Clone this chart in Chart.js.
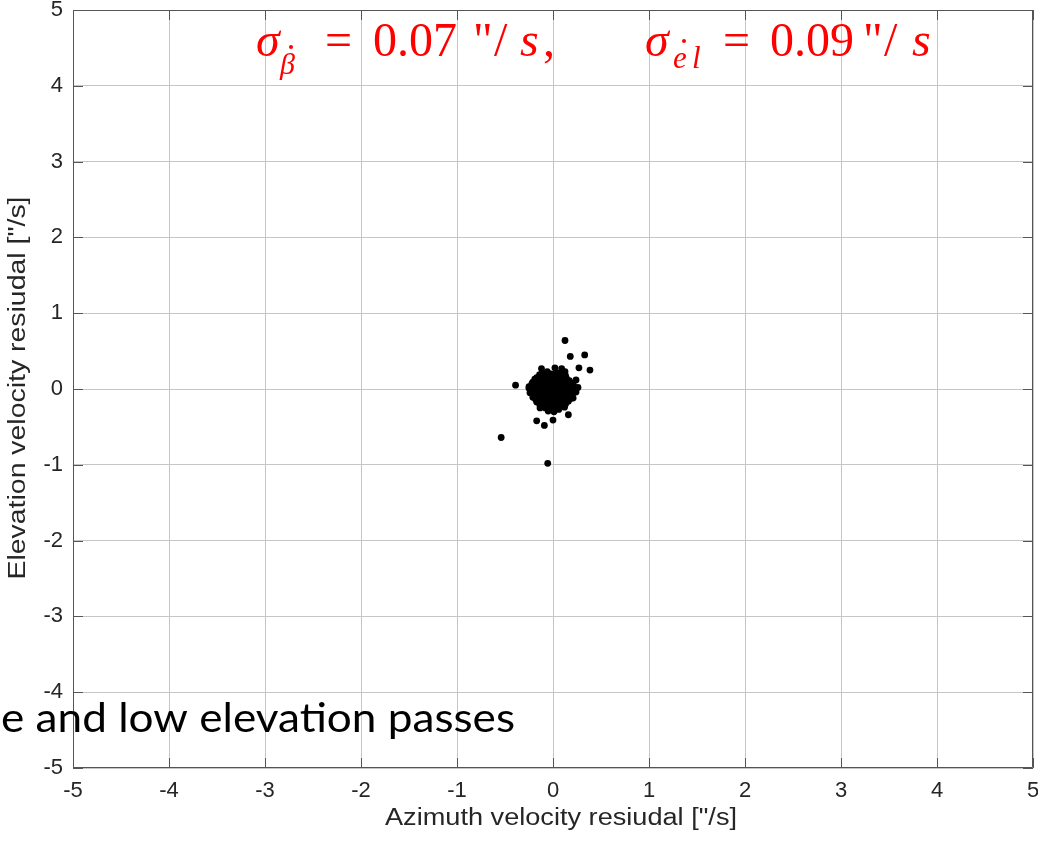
<!DOCTYPE html>
<html>
<head>
<meta charset="utf-8">
<script src="https://cdn.jsdelivr.net/npm/chart.js@4.4.1/dist/chart.umd.min.js"></script>
<style>
  html, body { margin: 0; padding: 0; background: #fff; }
</style>
</head>
<body>
<canvas id="residualChart" width="1038" height="846"></canvas>
<script>
// Residuais de velocidade (azimute x elevação), em "/s
var azimuthResidual = [
  // pontos afastados
  0.125, 0.18, 0.33, 0.385, 0.27, -0.12, 0.02, 0.09, 0.125, 0.24, 0.26, -0.39, -0.25,
  -0.17, -0.09, 0.0, 0.16, -0.54, -0.055, -0.135, -0.03,
  // nuvem central
  -0.11, -0.06, -0.02, 0.03, 0.07, 0.11,
  -0.17, -0.12, -0.08, -0.03, 0.01, 0.05, 0.09, 0.14,
  -0.21, -0.16, -0.12, -0.07, -0.03, 0.02, 0.06, 0.10, 0.15, 0.19,
  -0.23, -0.18, -0.14, -0.09, -0.05, -0.01, 0.04, 0.08, 0.13, 0.17, 0.21,
  -0.22, -0.18, -0.13, -0.09, -0.04, 0.00, 0.05, 0.09, 0.14, 0.18, 0.22,
  -0.20, -0.16, -0.11, -0.07, -0.02, 0.02, 0.07, 0.11, 0.16, 0.20,
  -0.18, -0.13, -0.09, -0.04, 0.00, 0.05, 0.09, 0.14, 0.18,
  -0.14, -0.09, -0.05, 0.00, 0.04, 0.09, 0.13,
  -0.08, -0.03, 0.02, 0.06,
  // nuvem central (linhas intercaladas)
  -0.14, -0.09, -0.04, 0.00, 0.05, 0.09, 0.13,
  -0.19, -0.14, -0.10, -0.05, -0.01, 0.03, 0.08, 0.12, 0.17,
  -0.22, -0.18, -0.14, -0.09, -0.05, 0.00, 0.04, 0.08, 0.13, 0.17, 0.21,
  -0.25, -0.20, -0.16, -0.11, -0.07, -0.03, 0.02, 0.06, 0.11, 0.15, 0.19, 0.23,
  -0.24, -0.20, -0.15, -0.11, -0.06, -0.02, 0.03, 0.07, 0.12, 0.16, 0.20, 0.24,
  -0.21, -0.18, -0.13, -0.09, -0.04, 0.00, 0.04, 0.09, 0.13, 0.18, 0.21,
  -0.17, -0.11, -0.07, -0.02, 0.02, 0.07, 0.11, 0.16,
  -0.12, -0.06, -0.01, 0.04, 0.09, 0.12,
  -0.05, 0.01
];
var elevationResidual = [
  0.64, 0.43, 0.45, 0.25, 0.28, 0.27, 0.28, 0.27, 0.23, 0.12, 0.02, 0.05, 0.03,
  -0.42, -0.48, -0.41, -0.34, -0.64, -0.98, -0.25, -0.26,
  0.21, 0.23, 0.20, 0.22, 0.21, 0.19,
  0.15, 0.17, 0.16, 0.15, 0.17, 0.15, 0.16, 0.14,
  0.09, 0.11, 0.10, 0.09, 0.11, 0.10, 0.09, 0.11, 0.10, 0.08,
  0.03, 0.05, 0.04, 0.03, 0.05, 0.04, 0.03, 0.05, 0.04, 0.03, 0.05,
  -0.03, -0.01, -0.02, -0.03, -0.01, -0.02, -0.03, -0.01, -0.02, -0.03, -0.01,
  -0.08, -0.09, -0.07, -0.08, -0.09, -0.07, -0.08, -0.09, -0.07, -0.09,
  -0.14, -0.15, -0.13, -0.14, -0.15, -0.13, -0.14, -0.15, -0.13,
  -0.20, -0.21, -0.19, -0.20, -0.21, -0.19, -0.20,
  -0.25, -0.26, -0.25, -0.27,
  0.19, 0.18, 0.20, 0.19, 0.18, 0.20, 0.18,
  0.13, 0.12, 0.14, 0.13, 0.12, 0.14, 0.13, 0.12, 0.11,
  0.07, 0.06, 0.08, 0.07, 0.06, 0.08, 0.07, 0.06, 0.08, 0.07, 0.06,
  0.01, 0.00, 0.02, 0.01, 0.00, 0.02, 0.01, 0.00, 0.02, 0.01, 0.00, 0.01,
  -0.05, -0.06, -0.04, -0.05, -0.06, -0.04, -0.05, -0.06, -0.04, -0.05, -0.06, -0.04,
  -0.11, -0.12, -0.10, -0.11, -0.12, -0.10, -0.11, -0.12, -0.10, -0.11, -0.12,
  -0.17, -0.18, -0.16, -0.17, -0.18, -0.16, -0.17, -0.16,
  -0.23, -0.22, -0.24, -0.23, -0.22, -0.24,
  -0.29, -0.30
];
var xTicks = [-5, -4, -3, -2, -1, 0, 1, 2, 3, 4, 5];
var yTicks = [-5, -4, -3, -2, -1, 0, 1, 2, 3, 4, 5];

var xTitle = 'Azimuth velocity resiudal ["/s]';
var yTitle = 'Elevation velocity resiudal ["/s]';
var slideText = 'e and low elevation passes';

var points = azimuthResidual.map(function (v, i) {
  return { x: v, y: elevationResidual[i] };
});

var axisColor = '#262626';
var tickFont = { family: '"Liberation Sans", Arial, sans-serif', size: 22 };

// texto esticado na horizontal até a largura desejada
function fitText(ctx, text, cx, cy, width, rot) {
  ctx.save();
  ctx.translate(cx, cy);
  if (rot) ctx.rotate(rot);
  var w = ctx.measureText(text).width;
  ctx.scale(width / w, 1);
  ctx.fillText(text, 0, 0);
  ctx.restore();
}

var overlayPlugin = {
  id: 'overlay',
  afterDraw: function (chart) {
    var ctx = chart.ctx;
    var a = chart.chartArea;
    var sx = chart.scales.x, sy = chart.scales.y;
    ctx.save();

    // caixa e marcas internas (estilo MATLAB)
    ctx.strokeStyle = '#555555';
    ctx.lineWidth = 1;
    ctx.beginPath();
    ctx.rect(a.left + 0.5, a.top + 0.5, a.right - a.left - 1, a.bottom - a.top - 1);
    xTicks.forEach(function (v) {
      var px = Math.round(sx.getPixelForValue(v)) + 0.5;
      ctx.moveTo(px, a.bottom); ctx.lineTo(px, a.bottom - 10);
      ctx.moveTo(px, a.top); ctx.lineTo(px, a.top + 10);
    });
    yTicks.forEach(function (v) {
      var py = Math.round(sy.getPixelForValue(v)) + 0.5;
      ctx.moveTo(a.left, py); ctx.lineTo(a.left + 10, py);
      ctx.moveTo(a.right, py); ctx.lineTo(a.right - 10, py);
    });
    ctx.stroke();

    // títulos dos eixos
    ctx.fillStyle = axisColor;
    ctx.font = '23px "Liberation Sans", Arial, sans-serif';
    ctx.textAlign = 'center';
    ctx.textBaseline = 'alphabetic';
    fitText(ctx, xTitle, 561, 825, 352, 0);
    ctx.textBaseline = 'middle';
    fitText(ctx, yTitle, 19, 388, 383, -Math.PI / 2);

    // anotação em vermelho
    ctx.fillStyle = '#ff0000';
    ctx.textAlign = 'left';
    ctx.textBaseline = 'alphabetic';
    var serif = '"Liberation Serif", "DejaVu Serif", serif';
    var big = '48px ' + serif, bigIt = 'italic 48px ' + serif, subIt = 'italic 31px ' + serif;
    function put(t, f, x, y) { ctx.font = f; ctx.fillText(t, x, y); }
    put('σ', bigIt, 256, 56);
    put('β', 'italic 30px ' + serif, 280, 74);
    put('=', big, 325, 56);
    put('0.07', big, 373, 56);
    put('"', big, 473, 56);
    put('/', big, 494, 56);
    put('s', bigIt, 520, 56);
    put(',', big, 543, 56);

    put('σ', bigIt, 645, 56);
    put('e', subIt, 673, 68);
    put('l', subIt, 692, 68);
    put('=', big, 723, 56);
    put('0.09', big, 770, 56);
    put('"', big, 863, 56);
    put('/', big, 884, 56);
    put('s', bigIt, 912, 56);
    ctx.beginPath();
    ctx.arc(291, 47, 2, 0, Math.PI * 2);
    ctx.arc(684, 41, 2, 0, Math.PI * 2);
    ctx.fill();

    // texto do slide por cima do gráfico
    ctx.fillStyle = '#000000';
    ctx.font = '41px Lato, "Open Sans", sans-serif';
    ctx.textAlign = 'left';
    var w = ctx.measureText(slideText).width;
    ctx.save();
    ctx.translate(1, 732);
    ctx.scale(514 / w, 1);
    ctx.fillText(slideText, 0, 0);
    ctx.restore();

    ctx.restore();
  }
};

var ctxScatter = document.getElementById('residualChart').getContext('2d');

var residualChart = new Chart(ctxScatter, {
  type: 'scatter',
  data: {
    datasets: [{
      label: 'Residual',
      data: points,
      backgroundColor: '#000000',
      borderWidth: 0,
      pointRadius: 3.4,
      pointHoverRadius: 3.4
    }]
  },
  options: {
    responsive: false,
    animation: false,
    layout: { padding: { top: 10, right: 5, bottom: 0, left: 0 } },
    plugins: {
      legend: { display: false },
      tooltip: { enabled: false }
    },
    scales: {
      x: {
        type: 'linear',
        min: -5,
        max: 5,
        afterBuildTicks: function (s) { s.ticks = xTicks.map(function (v) { return { value: v }; }); },
        afterFit: function (s) { s.height = 78; s.paddingLeft = 0; s.paddingRight = 0; },
        ticks: { color: axisColor, font: tickFont, padding: 10, maxRotation: 0 },
        grid: { color: '#c6c6c6', lineWidth: 1, drawTicks: false },
        border: { display: false }
      },
      y: {
        type: 'linear',
        min: -5,
        max: 5,
        afterBuildTicks: function (s) { s.ticks = yTicks.map(function (v) { return { value: v }; }); },
        afterFit: function (s) { s.width = 73; s.paddingTop = 0; s.paddingBottom = 0; },
        ticks: { color: axisColor, font: tickFont, padding: 10 },
        grid: { color: '#c6c6c6', lineWidth: 1, drawTicks: false },
        border: { display: false }
      }
    }
  },
  plugins: [overlayPlugin]
});
</script>
</body>
</html>
